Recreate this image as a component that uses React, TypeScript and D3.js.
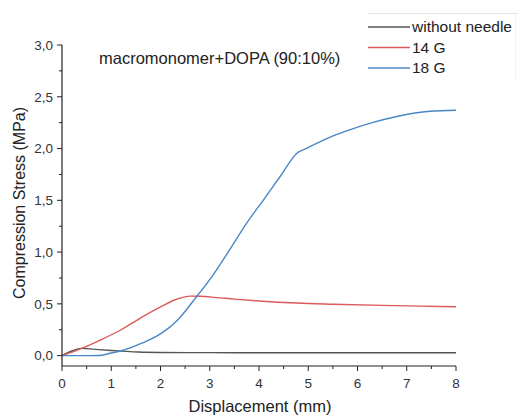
import React from 'react';
import * as d3 from 'd3';

// displacement (mm) vs compression stress (MPa)
const withoutNeedle: [number, number][] = [
  [0, 0], [0.2, 0.045], [0.4, 0.07], [0.74, 0.058], [1.0, 0.05], [1.21, 0.044],
  [1.55, 0.035], [2, 0.031], [3, 0.029], [4, 0.028], [5, 0.028],
  [6, 0.028], [7, 0.028], [8, 0.028],
];
const g14: [number, number][] = [
  [0, 0], [0.4, 0.07], [0.8, 0.155], [1.2, 0.25], [1.6, 0.365], [2.0, 0.47],
  [2.3, 0.54], [2.6, 0.575], [2.8, 0.573], [3.1, 0.563],
  [3.5, 0.546], [4, 0.528], [4.77, 0.508], [5.5, 0.497], [6.5, 0.485],
  [7.3, 0.478], [8, 0.472],
];
const g18: [number, number][] = [
  [0, 0], [0.4, 0], [0.74, 0.001], [1.0, 0.025], [1.21, 0.047], [1.62, 0.12],
  [2.0, 0.21], [2.36, 0.35], [2.7, 0.55], [3.07, 0.78],
  [3.4, 1.02], [3.75, 1.28], [4.1, 1.51], [4.43, 1.73], [4.77, 1.955],
  [5.0, 2.01], [5.4, 2.1], [5.78, 2.17], [6.3, 2.25], [6.8, 2.31],
  [7.47, 2.36], [8, 2.37],
];

const series = [
  { name: 'without needle', data: withoutNeedle, color: '#555555' },
  { name: '14 G', data: g14, color: '#dc5a5a' },
  { name: '18 G', data: g18, color: '#4a86c5' },
];

const xTicks = [0, 1, 2, 3, 4, 5, 6, 7, 8];
const yTicks = [0, 0.5, 1, 1.5, 2, 2.5, 3];

const W = 518;
const H = 416;
const FONT = 'Liberation Sans, Arial, sans-serif';

export default function App() {
  const x = d3.scaleLinear().domain([0, 8]).range([62, 456]);
  const y = d3.scaleLinear().domain([-0.1, 3]).range([366, 45]);
  const line = d3
    .line<[number, number]>()
    .x((d) => x(d[0]))
    .y((d) => y(d[1]))
    .curve(d3.curveMonotoneX);

  const fmt = (v: number) => v.toFixed(1).replace('.', ',');
  const xMinor = d3.range(0.5, 8, 1);
  const yMinor = d3.range(0.25, 3, 0.5);

  return (
    <svg
      width={W}
      height={H}
      style={{ position: 'absolute', left: 0, top: 0, background: '#fff' }}
      fontFamily={FONT}
    >
      {/* curves */}
      {series.map((s) => (
        <path
          key={s.name}
          d={line(s.data) || ''}
          fill="none"
          stroke={s.color}
          strokeWidth={1.4}
        />
      ))}

      {/* x axis */}
      <path d={`M${x(0)},${y(-0.1)}H${x(8)}`} stroke="#222" strokeWidth={1.2} />
      {xTicks.map((v) => (
        <g key={v} transform={`translate(${x(v)},${y(-0.1)})`}>
          <line y2={5} stroke="#222" />
          <text y={22} textAnchor="middle" fontSize={13.5} fill="#333">
            {v}
          </text>
        </g>
      ))}
      {xMinor.map((v) => (
        <line key={v} x1={x(v)} x2={x(v)} y1={y(-0.1)} y2={y(-0.1) + 3} stroke="#222" />
      ))}
      <text x={260} y={412} textAnchor="middle" fontSize={16.5} fill="#222">
        Displacement (mm)
      </text>

      {/* y axis */}
      <path d={`M${x(0)},${y(3)}V${y(-0.1)}`} stroke="#222" strokeWidth={1.2} />
      {yTicks.map((v) => (
        <g key={v} transform={`translate(${x(0)},${y(v)})`}>
          <line x2={-5} stroke="#222" />
          <text x={-9} dy="0.35em" textAnchor="end" fontSize={13.5} fill="#333">
            {fmt(v)}
          </text>
        </g>
      ))}
      {yMinor.map((v) => (
        <line key={v} x1={x(0)} x2={x(0) - 3} y1={y(v)} y2={y(v)} stroke="#222" />
      ))}
      <text
        transform="translate(25,203) rotate(-90)"
        textAnchor="middle"
        fontSize={16}
        fill="#222"
      >
        Compression Stress (MPa)
      </text>

      {/* annotation */}
      <text x={99} y={64} fontSize={16.5} fill="#222">
        macromonomer+DOPA (90:10%)
      </text>

      {/* legend */}
      <path d="M368,13.5H518" stroke="#e4e4e4" />
      <path d="M515.5,13V80" stroke="#f0f0f0" />
      {series.map((s, i) => (
        <g key={s.name} transform={`translate(368,${27 + i * 20.5})`}>
          <line x2={42} stroke={s.color} strokeWidth={1.4} />
          <text x={44} dy="0.35em" fontSize={15.5} fill="#222">
            {s.name}
          </text>
        </g>
      ))}
    </svg>
  );
}
